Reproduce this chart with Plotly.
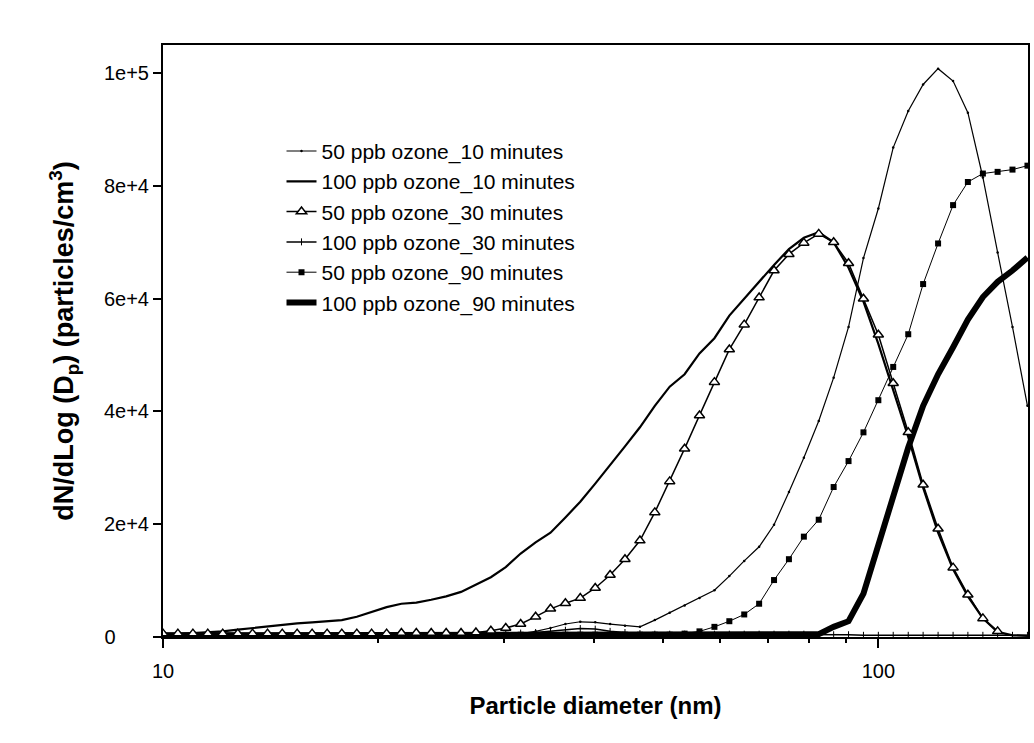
import plotly.graph_objects as go

# Particle diameters (nm), SMPS-like log-spaced channels
diameter = [10.00, 10.49, 11.01, 11.55, 12.12, 12.72, 13.34, 14.00, 14.68, 15.40,
            16.16, 16.96, 17.78, 18.66, 19.57, 20.54, 21.54, 22.60, 23.71, 24.88,
            26.10, 27.38, 28.73, 30.14, 31.62, 33.18, 34.81, 36.52, 38.31, 40.20,
            42.17, 44.24, 46.42, 48.70, 51.09, 53.60, 56.23, 59.00, 61.90, 64.94,
            68.13, 71.48, 74.99, 78.68, 82.54, 86.60, 90.85, 95.32, 100.0, 104.9,
            110.1, 115.5, 121.2, 127.2, 133.4, 140.0, 146.8, 154.0, 161.6]

o50_10 = [400, 400, 400, 400, 400, 400, 400, 400, 400, 400,
          400, 400, 400, 400, 400, 400, 400, 400, 400, 400,
          400, 400, 500, 500, 600, 1000, 1600, 2300, 2700, 2600,
          2300, 2000, 1800, 3000, 4300, 5600, 6900, 8300, 10800, 13500,
          16000, 19900, 25700, 31800, 38300, 46000, 55000, 67200, 76000, 86800,
          93300, 98000, 100800, 98600, 93000, 81500, 68200, 55000, 41000]

o100_10 = [500, 500, 700, 800, 1000, 1300, 1600, 1900, 2200, 2400,
           2600, 2800, 3000, 3600, 4400, 5300, 5900, 6100, 6600, 7200,
           8000, 9300, 10600, 12400, 14800, 16800, 18500, 21200, 24000, 27200,
           30400, 33800, 37200, 41000, 44400, 46600, 50300, 53000, 57000, 60000,
           62900, 66000, 68800, 70800, 71800, 70000, 65500, 59500, 52000, 44000,
           35500, 26500, 18500, 12000, 7200, 3300, 900, 300, 200]

o50_30 = [600, 600, 600, 600, 600, 600, 600, 600, 600, 600,
          600, 600, 600, 600, 600, 600, 700, 700, 700, 700,
          700, 800, 1100, 1600, 2300, 3600, 5000, 6000, 6900, 8700,
          11000, 13800, 17100, 22100, 27600, 33400, 39300, 45200, 51000, 55400,
          60200, 65000, 67900, 69900, 71500, 70000, 66300, 60000, 53600, 45000,
          36300, 27000, 19200, 12300, 7500, 3300, 1000, None, None]

o100_30 = [600, 600, 600, 600, 600, 600, 600, 600, 600, 600,
           600, 600, 600, 600, 600, 600, 600, 600, 600, 600,
           600, 600, 600, 600, 700, 800, 1000, 1200, 1500, 1400,
           1000, 800, 600, 500, 500, 500, 500, 500, 500, 500,
           500, 500, 500, 500, 400, 400, 400, 300, 300, 300,
           300, 300, 300, 300, 300, 300, 300, 300, 300]

o50_90 = [400, 400, 400, 400, 400, 400, 400, 400, 400, 400,
          400, 400, 400, 400, 400, 400, 400, 400, 400, 400,
          400, 400, 400, 400, 400, 400, 400, 400, 400, 400,
          400, 400, 400, 400, 400, 600, 1000, 1800, 2800, 4000,
          5900, 10100, 13800, 17800, 20800, 26600, 31200, 36300, 42000, 47900,
          53700, 62600, 69800, 76600, 80700, 82200, 82500, 82900, 83600]

o100_90 = [300, 300, 300, 300, 300, 300, 300, 300, 300, 300,
           300, 300, 300, 300, 300, 300, 300, 300, 300, 300,
           300, 300, 300, 300, 300, 300, 300, 300, 300, 300,
           300, 300, 300, 300, 300, 300, 300, 300, 300, 300,
           300, 300, 300, 300, 500, 1800, 2800, 7700, 16200, 24800,
           33600, 41000, 46600, 51400, 56300, 60300, 63000, 65000, 67300]

names = ["50 ppb ozone_10 minutes", "100 ppb ozone_10 minutes",
         "50 ppb ozone_30 minutes", "100 ppb ozone_30 minutes",
         "50 ppb ozone_90 minutes", "100 ppb ozone_90 minutes"]

NB = "\u00a0"
y_tickvals = [0, 20000, 40000, 60000, 80000, 100000]
y_ticktext = ["0" + NB * 6, "2e+4", "4e+4", "6e+4", "8e+4", "1e+5"]
x_tickvals = [10, 100]
x_ticktext = ["10", "100"]
x_minor = [20, 30, 40, 50, 60, 70, 80, 90]

fig = go.Figure()
fig.add_trace(go.Scatter(x=diameter, y=o100_90, name=names[5], mode="lines",
                         line=dict(color="black", width=6)))
fig.add_trace(go.Scatter(x=diameter, y=o100_30, name=names[3], mode="lines+markers",
                         line=dict(color="black", width=1.5),
                         marker=dict(symbol="line-ns", size=5, line=dict(width=1, color="black"))))
fig.add_trace(go.Scatter(x=diameter, y=o50_90, name=names[4], mode="lines+markers",
                         line=dict(color="black", width=1),
                         marker=dict(symbol="square", size=6, color="black")))
fig.add_trace(go.Scatter(x=diameter, y=o100_10, name=names[1], mode="lines",
                         line=dict(color="black", width=2.2)))
fig.add_trace(go.Scatter(x=diameter, y=o50_10, name=names[0], mode="lines+markers",
                         line=dict(color="black", width=1.2),
                         marker=dict(symbol="circle", size=2.5, color="black")))
fig.add_trace(go.Scatter(x=diameter, y=o50_30, name=names[2], mode="lines+markers",
                         line=dict(color="black", width=1.5),
                         marker=dict(symbol="triangle-up", size=9, color="white",
                                     line=dict(color="black", width=1.5))))

fig.update_layout(
    width=1034, height=743,
    margin=dict(l=163, r=4, t=45, b=106),
    plot_bgcolor="white", paper_bgcolor="white",
    font=dict(family="Liberation Sans, Arial, sans-serif", color="black", size=20),
    legend=dict(x=0.137, y=0.855, xanchor="left", yanchor="top",
                bgcolor="rgba(0,0,0,0)", font=dict(size=21),
                traceorder="normal", tracegroupgap=0),
    showlegend=True,
)
order = {n: i for i, n in enumerate(names)}
for tr in fig.data:
    tr.legendrank = order[tr.name] + 1

fig.update_xaxes(type="log", range=[1, 2.2092], tickvals=x_tickvals, ticktext=x_ticktext,
                 ticks="outside", ticklen=9, tickwidth=1.5, tickcolor="black",
                 showline=True, linewidth=2, linecolor="black", mirror=True,
                 showgrid=False, zeroline=False, tickfont=dict(size=20),
                 ticklabelstandoff=6,
                 minor=dict(tickvals=x_minor, ticks="outside", ticklen=4, tickcolor="black", showgrid=False),
                 title=dict(text="<b>Particle diameter (nm)</b>", font=dict(size=24), standoff=16))
fig.update_yaxes(range=[0, 105000], tickvals=y_tickvals, ticktext=y_ticktext,
                 ticks="outside", ticklen=8, tickwidth=1.5, tickcolor="black",
                 showline=True, linewidth=2, linecolor="black", mirror=True,
                 showgrid=False, zeroline=False, tickfont=dict(size=20),
                 title=dict(text="<b>dN/dLog (D<sub>p</sub>) (particles/cm<sup>3</sup>)</b>",
                            font=dict(size=27), standoff=22))

fig.write_html("out.html")
